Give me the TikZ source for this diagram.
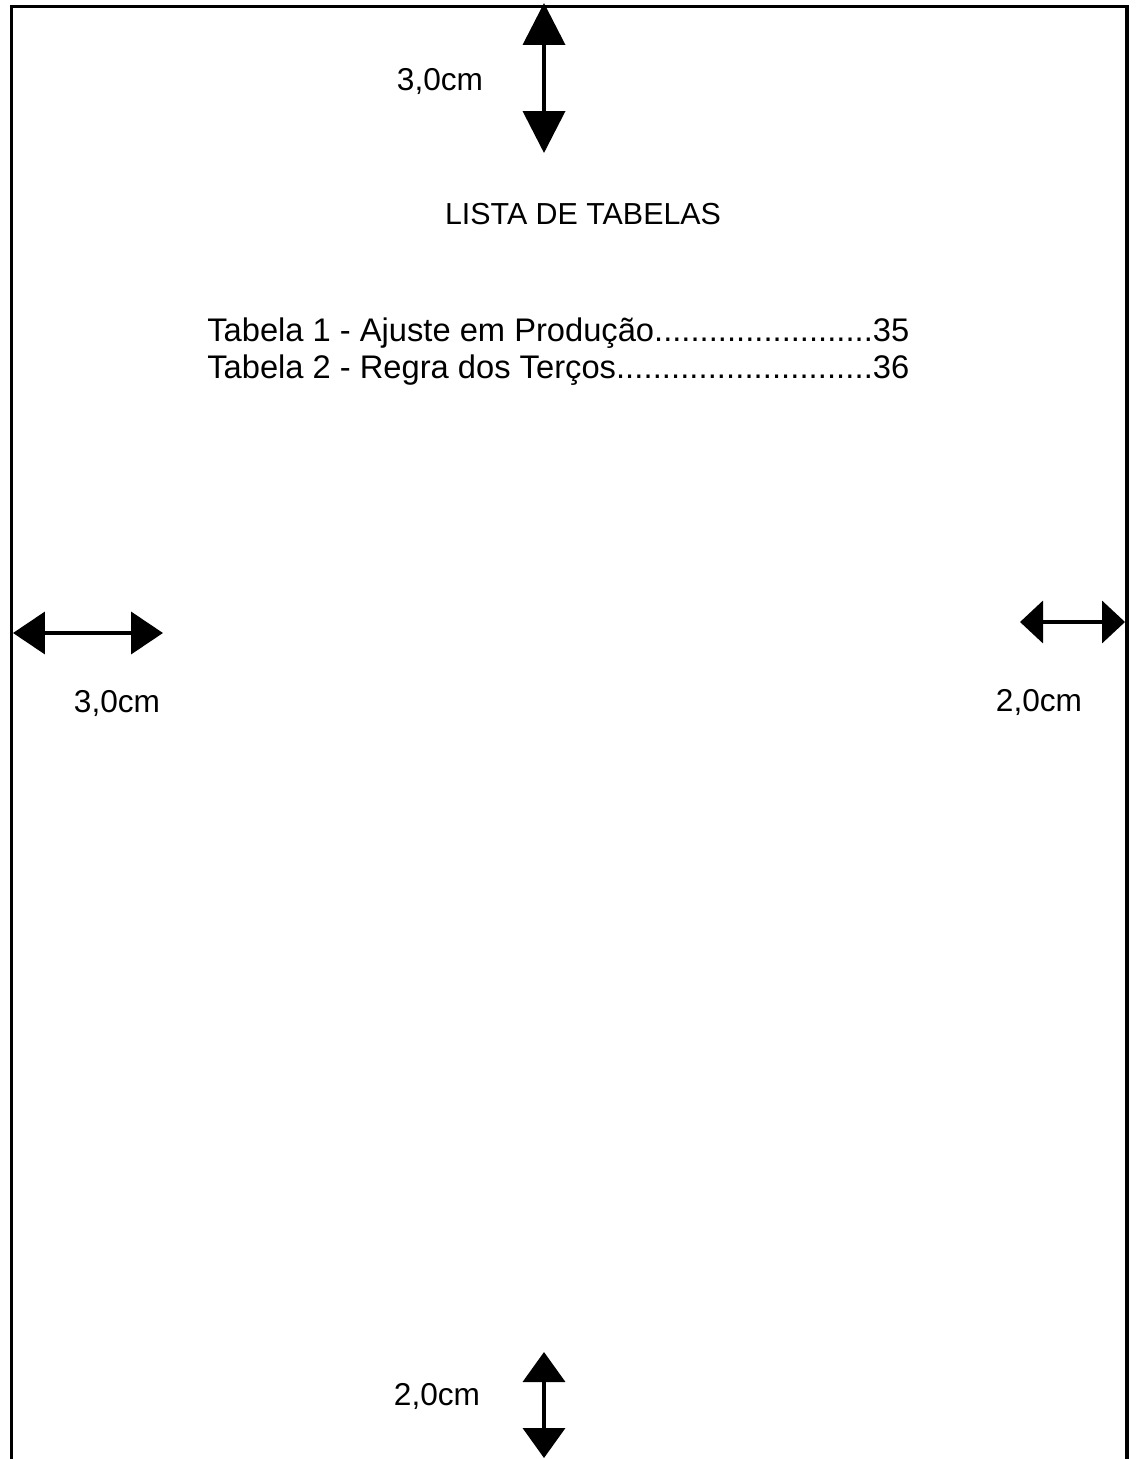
\documentclass[tikz,border=0pt]{standalone}
\usepackage{fontspec}
\setmainfont{Liberation Sans}
\usetikzlibrary{arrows.meta}
\newcommand\linhalista[2]{\hbox to 14.04cm{#1\xleaders\hbox{.}\hfill#2}}
\begin{document}
\begin{tikzpicture}[x=0.02cm,y=-0.02cm,
  every node/.style={font=\fontsize{18}{21}\selectfont,inner sep=0pt},
  item/.style={anchor=base west,font=\fontsize{18.6}{21}\selectfont},
  borda/.style={line width=2.2pt},
  cota/.style 2 args={line width=2.2pt,{Triangle[length=#1,width=0.84cm]}-{Triangle[length=#2,width=0.84cm]}}]
\useasboundingbox (0,0) rectangle (1135,1459);
% folha
\draw[borda] (11.5,1459) -- (11.5,6.5) -- (1127,6.5) -- (1127,1459);
% margens
\coordinate (sup1) at (544,3);
\coordinate (sup2) at (544,153);
\coordinate (esq1) at (13,633);
\coordinate (esq2) at (163,633);
\coordinate (dir1) at (1020,622);
\coordinate (dir2) at (1125,622);
\coordinate (inf1) at (544,1352);
\coordinate (inf2) at (544,1458);
\draw[cota={0.84cm}{0.84cm}] (sup1) -- (sup2);
\draw[cota={0.64cm}{0.64cm}] (esq1) -- (esq2);
\draw[cota={0.46cm}{0.46cm}] (dir1) -- (dir2);
\draw[cota={0.6cm}{0.6cm}] (inf1) -- (inf2);
\node[anchor=base] (msup) at (440,91) {3,0cm};
\node[anchor=base] (mesq) at (117,712) {3,0cm};
\node[anchor=base] (mdir) at (1039,711) {2,0cm};
\node[anchor=base] (minf) at (437,1405) {2,0cm};
% texto
\node[font=\fontsize{17.3}{21}\selectfont] (titulo) at (583,214) {LISTA DE TABELAS};
\node[item] (tab1) at (207,342) {\linhalista{Tabela 1 - Ajuste em Produção}{35}};
\node[item] (tab2) at (207,378) {\linhalista{Tabela 2 - Regra dos Terços}{36}};
\end{tikzpicture}
\end{document}
